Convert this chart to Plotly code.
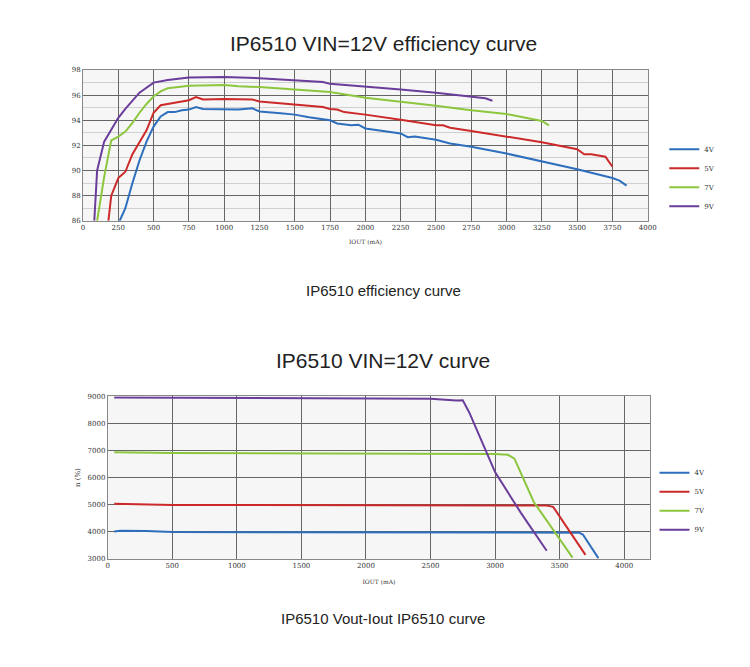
import plotly.graph_objects as go

labels = ['4V', '5V', '7V', '9V']
colors = ['#2e6fbd', '#cc2a2a', '#8cc63f', '#6a3d9a']

# efficiency curve (IOUT mA, efficiency %)
eff_x_4v = [260, 300, 350, 400, 450, 500, 550, 600, 650, 700, 750, 800, 850, 1000, 1100, 1200, 1250, 1400, 1500, 1600, 1750, 1800, 1900, 1950, 2000, 2250, 2300, 2350, 2500, 2600, 2750, 3000, 3250, 3500, 3750, 3800, 3850]
eff_y_4v = [86, 87, 89, 90.8, 92.3, 93.5, 94.3, 94.65, 94.65, 94.8, 94.85, 95.05, 94.9, 94.9, 94.85, 94.95, 94.7, 94.55, 94.45, 94.25, 94.0, 93.75, 93.6, 93.65, 93.35, 92.95, 92.65, 92.7, 92.45, 92.15, 91.9, 91.35, 90.75, 90.1, 89.4, 89.2, 88.8]
eff_x_5v = [180, 200, 250, 300, 350, 400, 450, 500, 550, 650, 750, 800, 850, 1000, 1100, 1200, 1250, 1500, 1700, 1750, 1800, 1850, 2000, 2250, 2500, 2550, 2600, 2750, 3000, 3250, 3500, 3550, 3600, 3700, 3750]
eff_y_5v = [86, 88, 89.4, 89.9, 91.3, 92.3, 93.2, 94.6, 95.2, 95.4, 95.6, 95.85, 95.65, 95.7, 95.65, 95.65, 95.5, 95.25, 95.05, 94.9, 94.85, 94.65, 94.45, 94.05, 93.6, 93.6, 93.4, 93.15, 92.7, 92.25, 91.7, 91.3, 91.3, 91.1, 90.3]
eff_x_7v = [100, 150, 200, 250, 300, 350, 400, 450, 500, 550, 600, 750, 1000, 1100, 1250, 1500, 1750, 2000, 2250, 2500, 2750, 3000, 3250, 3300]
eff_y_7v = [86, 89.5, 92.4, 92.7, 93.1, 93.8, 94.6, 95.3, 95.9, 96.3, 96.55, 96.75, 96.8, 96.7, 96.65, 96.45, 96.25, 95.8, 95.5, 95.15, 94.8, 94.5, 93.95, 93.6]
eff_x_9v = [80, 100, 150, 250, 300, 400, 500, 600, 750, 1000, 1250, 1500, 1700, 1750, 2000, 2250, 2500, 2750, 2850, 2900]
eff_y_9v = [86, 90, 92.3, 94.2, 94.9, 96.2, 97.0, 97.2, 97.4, 97.45, 97.35, 97.2, 97.05, 96.9, 96.7, 96.45, 96.2, 95.9, 95.75, 95.55]

# Vout-Iout curve (IOUT mA, Vout mV)
v_x_4v = [50, 100, 300, 500, 3650, 3680, 3800]
v_y_4v = [4010, 4040, 4030, 3990, 3970, 3900, 3030]
v_x_5v = [50, 300, 500, 3400, 3450, 3700]
v_y_5v = [5030, 5020, 4990, 4970, 4920, 3150]
v_x_7v = [50, 500, 3000, 3100, 3150, 3300, 3600]
v_y_7v = [6930, 6910, 6870, 6840, 6700, 5100, 3050]
v_x_9v = [50, 2500, 2700, 2750, 2800, 3000, 3200, 3400]
v_y_9v = [8950, 8910, 8840, 8850, 8400, 6200, 4700, 3300]

eff = [(eff_x_4v, eff_y_4v), (eff_x_5v, eff_y_5v), (eff_x_7v, eff_y_7v), (eff_x_9v, eff_y_9v)]
vout = [(v_x_4v, v_y_4v), (v_x_5v, v_y_5v), (v_x_7v, v_y_7v), (v_x_9v, v_y_9v)]

fig = go.Figure()
for i, (x, y) in enumerate(eff):
    fig.add_trace(go.Scatter(x=x, y=y, mode='lines', name=labels[i], line=dict(color=colors[i], width=2),
                             xaxis='x', yaxis='y', legend='legend'))
for i, (x, y) in enumerate(vout):
    fig.add_trace(go.Scatter(x=x, y=y, mode='lines', name=labels[i], line=dict(color=colors[i], width=2),
                             xaxis='x2', yaxis='y2', legend='legend2'))

serif = dict(family='DejaVu Serif', size=7, color='#333')
grid = dict(showgrid=True, gridcolor='#666', gridwidth=1, showline=True, linecolor='#888', mirror=True,
            tickfont=serif, zeroline=False, ticks='', automargin=False)

fig.update_layout(
    width=750, height=667, margin=dict(l=0, r=0, t=0, b=0),
    paper_bgcolor='white', plot_bgcolor='#f6f6f6',
    xaxis=dict(domain=[0.1, 0.853], range=[0, 4000], dtick=250, anchor='y',
               title=dict(text='IOUT (mA)', font=dict(family='DejaVu Serif', size=6, color='#333'), standoff=8), **grid),
    yaxis=dict(domain=[0.681, 0.907], range=[86, 98], dtick=2, anchor='x',
               minor=dict(dtick=1, showgrid=True, gridcolor='#d0d0d0'), **grid),
    xaxis2=dict(domain=[0.133, 0.856], range=[0, 4200], tickvals=[0, 500, 1000, 1500, 2000, 2500, 3000, 3500, 4000], anchor='y2',
                title=dict(text='IOUT (mA)', font=dict(family='DejaVu Serif', size=6, color='#333'), standoff=10), **grid),
    yaxis2=dict(domain=[0.174, 0.418], range=[3000, 9000], dtick=1000, anchor='x2',
                title=dict(text='n (%)', font=dict(family='DejaVu Serif', size=7, color='#333'), standoff=6), **grid),
    showlegend=True,
    legend=dict(x=0.875, y=0.81, xanchor='left', yanchor='top', font=serif, bgcolor='rgba(0,0,0,0)',
                itemwidth=30, tracegroupgap=0),
    legend2=dict(x=0.862, y=0.325, xanchor='left', yanchor='top', font=serif, bgcolor='rgba(0,0,0,0)',
                 itemwidth=30, tracegroupgap=0),
)

title_font = dict(family='Liberation Sans, Arial', size=21, color='#222')
cap_font = dict(family='Liberation Sans, Arial', size=15, color='#222')
captions = [('IP6510 VIN=12V efficiency curve', 36, title_font),
            ('IP6510 efficiency curve', 282, cap_font),
            ('IP6510 VIN=12V curve', 352, title_font),
            ('IP6510 Vout-Iout IP6510 curve', 610, cap_font)]
for text, ypx, font in captions:
    fig.add_annotation(text=text, x=0.5, y=1 - ypx / 667, xref='paper', yref='paper', yanchor='middle',
                       showarrow=False, font=font)
fig.add_shape(type='line', xref='paper', yref='paper', x0=0, x1=1, y0=1 - 662 / 667, y1=1 - 662 / 667,
              line=dict(color='#aaa', width=1, dash='dot'))

fig.write_html("out.html")
